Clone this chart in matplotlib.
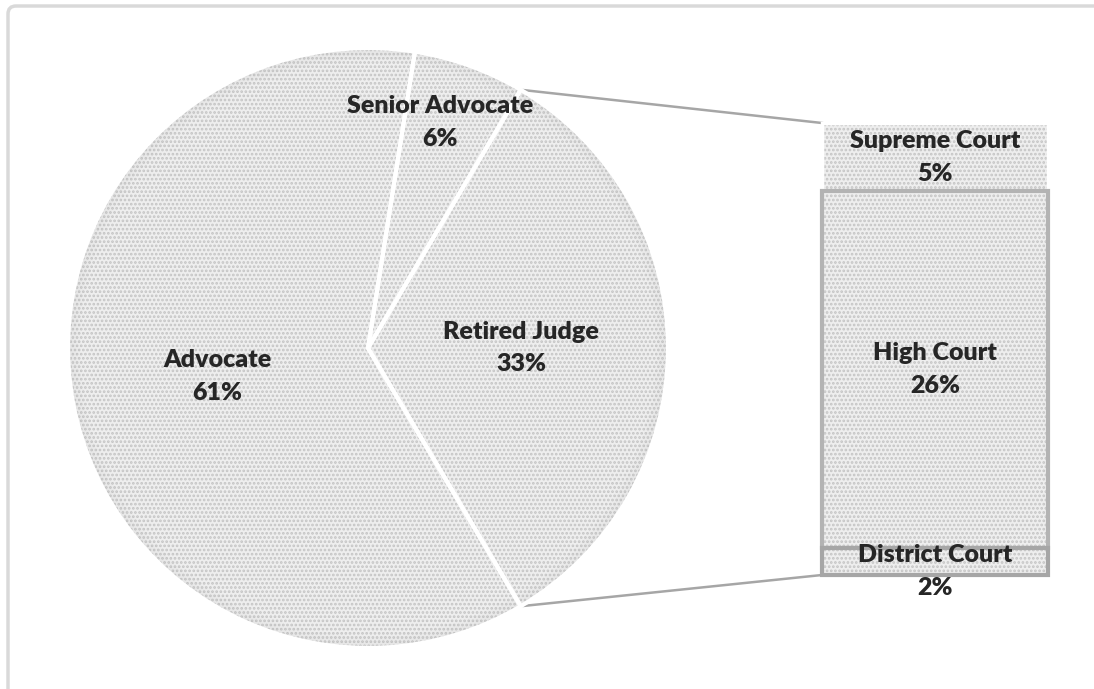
import numpy as np
import matplotlib
matplotlib.use("Agg")
import matplotlib.pyplot as plt
from matplotlib.patches import FancyBboxPatch, Wedge

# Data
pie_labels = ["Retired Judge", "Advocate", "Senior Advocate"]
pie_values = [33, 61, 6]
bar_labels = ["Supreme Court", "High Court", "District Court"]
bar_values = [5, 26, 2]

W, H = 1094, 689
fig = plt.figure(figsize=(W / 100, H / 100), dpi=100)
ax = fig.add_axes([0, 0, 1, 1])

plt.rcParams["hatch.linewidth"] = 1.3
FILL = "#eeeeee"
DOTS = "#c4c4c4"
TXT = "#262626"
FONT = "Lato"
FS = 18
LS = 1.6

cx, cy, R = 368, H - 348, 300
split_deg = pie_values[0] / 100 * 360
start = split_deg / 2  # split slice centred on the right-hand side

common = dict(startangle=start, counterclock=False, center=(cx, cy), radius=R)
ax.pie(pie_values, colors=[FILL] * 3, wedgeprops=dict(linewidth=0), **common)
ax.pie(pie_values, colors=["none"] * 3,
       wedgeprops=dict(linewidth=0, edgecolor=DOTS, hatch="...."), **common)

# soft darkening towards the rim
for k in range(8):
    ax.add_patch(Wedge((cx, cy), R - k * 1.6, 0, 360, width=1.6,
                       facecolor="#9a9a9a", alpha=0.10 * (1 - k / 8),
                       linewidth=0))

edges, _ = ax.pie(pie_values, colors=["none"] * 3,
                  wedgeprops=dict(linewidth=3, edgecolor="white"), **common)

# slice labels
label_r = [0.51, 0.51, 0.79]
label_shift = [0, 0, 2.0]  # degrees
for w, name, val, lr, sh in zip(edges, pie_labels, pie_values, label_r, label_shift):
    mid = np.deg2rad((w.theta1 + w.theta2) / 2 + sh)
    ax.text(cx + lr * R * np.cos(mid), cy + lr * R * np.sin(mid),
            f"{name}\n{val}%", ha="center", va="center", fontsize=FS,
            fontweight="heavy", family=FONT, color=TXT, linespacing=LS)

# stacked bar for the split slice
bar_x, bar_w = 935, 226
bar_top, bar_bottom = H - 123, H - 575
scale = (bar_top - bar_bottom) / sum(bar_values)
bottoms = bar_top - np.cumsum(bar_values) * scale
heights = np.array(bar_values) * scale
edgecols = ["white", "#b3b3b3", "#a6a6a6"]
for b, h, ec in zip(bottoms, heights, edgecols):
    ax.bar(bar_x, h, bottom=b, width=bar_w, color=FILL, linewidth=0)
    ax.bar(bar_x, h, bottom=b, width=bar_w, color="none", edgecolor=DOTS,
           hatch="....", linewidth=0)
    ax.bar(bar_x, h, bottom=b, width=bar_w, color="none", edgecolor=ec,
           linewidth=3 if ec != "white" else 2.5)

for b, h, name, val in zip(bottoms, heights, bar_labels, bar_values):
    yc = b + h / 2
    if h < 40:
        yc -= 10
    ax.text(bar_x, yc, f"{name}\n{val}%", ha="center", va="center",
            fontsize=FS, fontweight="heavy", family=FONT, color=TXT,
            linespacing=LS)

# connector lines from split slice edges to bar corners
a_top = np.deg2rad(start)
a_bot = np.deg2rad(start - split_deg)
ax.plot([cx + R * np.cos(a_top), bar_x - bar_w / 2],
        [cy + R * np.sin(a_top), bar_top], color="#a6a6a6", lw=1.8, zorder=0)
ax.plot([cx + R * np.cos(a_bot), bar_x - bar_w / 2],
        [cy + R * np.sin(a_bot), bar_bottom], color="#a6a6a6", lw=1.8, zorder=0)

# chart area border
ax.add_patch(FancyBboxPatch((8, -20), W + 20, H - 6 + 20,
                            boxstyle="round,pad=0,rounding_size=8",
                            facecolor="none", edgecolor="#d9d9d9", lw=2.5,
                            zorder=0))

ax.set_xlim(0, W)
ax.set_ylim(0, H)
ax.set_aspect("auto")
ax.axis("off")
fig.savefig("out.png", dpi=100)
